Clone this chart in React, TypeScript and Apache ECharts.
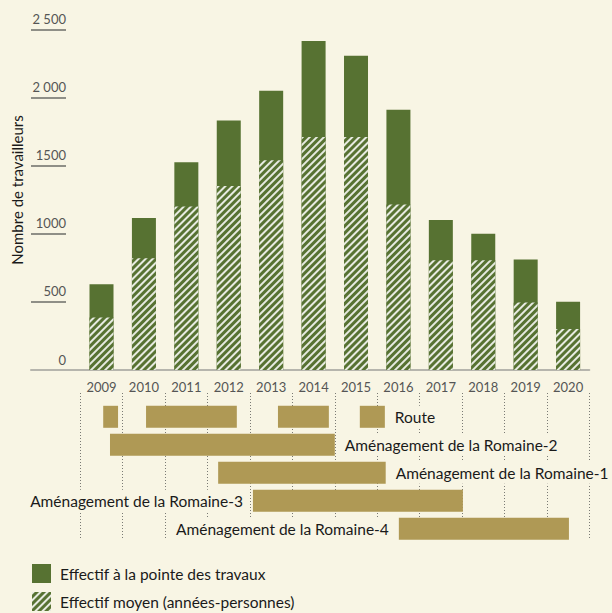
import React, { useEffect, useRef } from 'react';
import * as echarts from 'echarts';

// ---- Data ----
const years = [2009, 2010, 2011, 2012, 2013, 2014, 2015, 2016, 2017, 2018, 2019, 2020];
const peakWorkers = [630, 1115, 1525, 1830, 2050, 2415, 2305, 1910, 1100, 1000, 810, 500];
const avgWorkers = [385, 820, 1200, 1350, 1540, 1710, 1710, 1215, 805, 805, 495, 300];
const yTickValues = [0, 500, 1000, 1500, 2000, 2500];
const yTickLabels = ['0', '500', '1000', '1500', '2 000', '2 500'];

const projects = [
  'Route',
  'Aménagement de la Romaine-2',
  'Aménagement de la Romaine-1',
  'Aménagement de la Romaine-3',
  'Aménagement de la Romaine-4',
];
const segmentProject = [0, 0, 0, 0, 1, 2, 3, 4];
const segmentStart = [2009.54, 2010.55, 2013.66, 2015.59, 2009.7, 2012.25, 2013.07, 2016.51];
const segmentEnd = [2009.89, 2012.69, 2014.86, 2016.18, 2015.0, 2016.2, 2018.02, 2020.52];
const labelOnLeft = [false, false, false, true, true];

const seriesNames = ['Effectif à la pointe des travaux', 'Effectif moyen (années-personnes)'];

// ---- Style ----
const BG = '#f8f5e4';
const GREEN = '#577232';
const TAN = '#af9955';
const FONT = 'Lato, "Noto Sans", sans-serif';

export default function App() {
  const ref = useRef<HTMLDivElement>(null);
  useEffect(() => {
    if (!ref.current) return;
    const chart = echarts.init(ref.current, undefined, { renderer: 'svg' });

    const PX_LEFT = 31;
    const PX_START = 80.3;
    const PX_END = 589.3;
    const firstYear = years[0];
    const lastYear = years[years.length - 1] + 1;
    const pxPerYear = (PX_END - PX_START) / (lastYear - firstYear);
    const xMin0 = firstYear - (PX_START - PX_LEFT) / pxPerYear;

    const segData = segmentStart.map((s, i) => [s, segmentEnd[i], segmentProject[i]]);
    const labelData = projects.map((name, r) => {
      const starts = segmentStart.filter((_, i) => segmentProject[i] === r);
      const ends = segmentEnd.filter((_, i) => segmentProject[i] === r);
      const anchor = labelOnLeft[r] ? Math.min(...starts) : Math.max(...ends);
      return { name, value: [anchor, r, labelOnLeft[r] ? 1 : 0] };
    });

    chart.setOption({
      animation: false,
      backgroundColor: BG,
      textStyle: { fontFamily: FONT },
      grid: [
        { left: PX_LEFT, right: 612 - PX_END, top: 29.3, bottom: 613 - 370 },
        { left: PX_START, right: 612 - PX_END, top: 393, bottom: 613 - 540 },
      ],
      xAxis: [
        {
          type: 'value',
          gridIndex: 0,
          min: xMin0,
          max: lastYear,
          axisLine: { show: true, lineStyle: { color: '#b6b5ad', width: 2 } },
          axisTick: { show: false },
          splitLine: { show: false },
          axisLabel: {
            customValues: years.map((y) => y + 0.5),
            formatter: (v: number) => String(Math.floor(v)),
            color: '#555',
            fontSize: 13,
            fontFamily: FONT,
            margin: 10,
          },
        },
        {
          type: 'value',
          gridIndex: 1,
          min: firstYear,
          max: lastYear,
          interval: 1,
          axisLine: { show: false },
          axisTick: { show: false },
          axisLabel: { show: false },
          splitLine: { show: true, lineStyle: { color: '#7a7a74', width: 1, type: [1, 2] } },
        },
      ],
      yAxis: [
        {
          type: 'value',
          gridIndex: 0,
          min: 0,
          max: 2500,
          interval: 500,
          axisLine: { show: false },
          splitLine: { show: false },
          axisTick: {
            show: true,
            inside: true,
            length: 35,
            customValues: yTickValues.filter((v) => v > 0),
            lineStyle: { color: '#6d6d68', width: 1.5 },
          },
          axisLabel: {
            inside: true,
            margin: 35,
            align: 'right',
            verticalAlign: 'bottom',
            padding: [0, 0, 4, 0],
            customValues: yTickValues,
            formatter: (v: number) => yTickLabels[yTickValues.indexOf(v)] ?? String(v),
            color: '#555',
            fontSize: 13,
            fontFamily: FONT,
          },
        },
        {
          type: 'value',
          gridIndex: 1,
          min: -0.85,
          max: 4.4,
          inverse: true,
          show: false,
        },
      ],
      legend: {
        orient: 'vertical',
        left: 32,
        top: 564,
        padding: 0,
        itemWidth: 19,
        itemHeight: 19,
        itemGap: 9,
        icon: 'rect',
        data: seriesNames,
        textStyle: { fontSize: 15.5, color: '#1a1a1a', fontFamily: FONT, padding: [0, 0, 0, 4] },
      },
      graphic: [
        {
          type: 'text',
          x: 17,
          y: 190,
          rotation: Math.PI / 2,
          style: {
            text: 'Nombre de travailleurs',
            font: `15px ${FONT}`,
            fill: '#1a1a1a',
            align: 'center',
            verticalAlign: 'middle',
          },
        },
      ],
      series: [
        {
          name: seriesNames[0],
          type: 'bar',
          xAxisIndex: 0,
          yAxisIndex: 0,
          barWidth: 24,
          barGap: '-100%',
          itemStyle: { color: GREEN },
          data: years.map((y, i) => [y + 0.5, peakWorkers[i]]),
        },
        {
          name: seriesNames[1],
          type: 'bar',
          xAxisIndex: 0,
          yAxisIndex: 0,
          barWidth: 24,
          barGap: '-100%',
          itemStyle: {
            color: GREEN,
            decal: {
              symbol: 'rect',
              symbolSize: 1,
              dashArrayX: [1, 0],
              dashArrayY: [1.3, 2.6],
              rotation: -Math.PI / 4,
              color: 'rgba(255,255,255,0.85)',
            },
          },
          data: years.map((y, i) => [y + 0.5, avgWorkers[i]]),
        },
        {
          type: 'custom',
          xAxisIndex: 1,
          yAxisIndex: 1,
          silent: true,
          z: 3,
          data: segData,
          renderItem: (params: any, api: any) => {
            const a = api.coord([api.value(0), api.value(2)]);
            const b = api.coord([api.value(1), api.value(2)]);
            const h = 22;
            return {
              type: 'rect',
              shape: { x: a[0], y: a[1] - h / 2, width: b[0] - a[0], height: h },
              style: { fill: TAN },
            };
          },
        },
        {
          type: 'custom',
          xAxisIndex: 1,
          yAxisIndex: 1,
          silent: true,
          z: 4,
          data: labelData,
          renderItem: (params: any, api: any) => {
            const p = api.coord([api.value(0), api.value(1)]);
            const left = api.value(2) === 1;
            return {
              type: 'text',
              x: p[0] + (left ? -8 : 8),
              y: p[1],
              style: {
                text: labelData[params.dataIndex].name,
                font: `15.5px ${FONT}`,
                fill: '#1a1a1a',
                align: left ? 'right' : 'left',
                verticalAlign: 'middle',
                backgroundColor: BG,
                padding: [3, 2, 3, 2],
              },
            };
          },
        },
      ],
    });
    return () => chart.dispose();
  }, []);
  return <div ref={ref} style={{ position: 'fixed', left: 0, top: 0, width: 612, height: 613 }} />;
}
